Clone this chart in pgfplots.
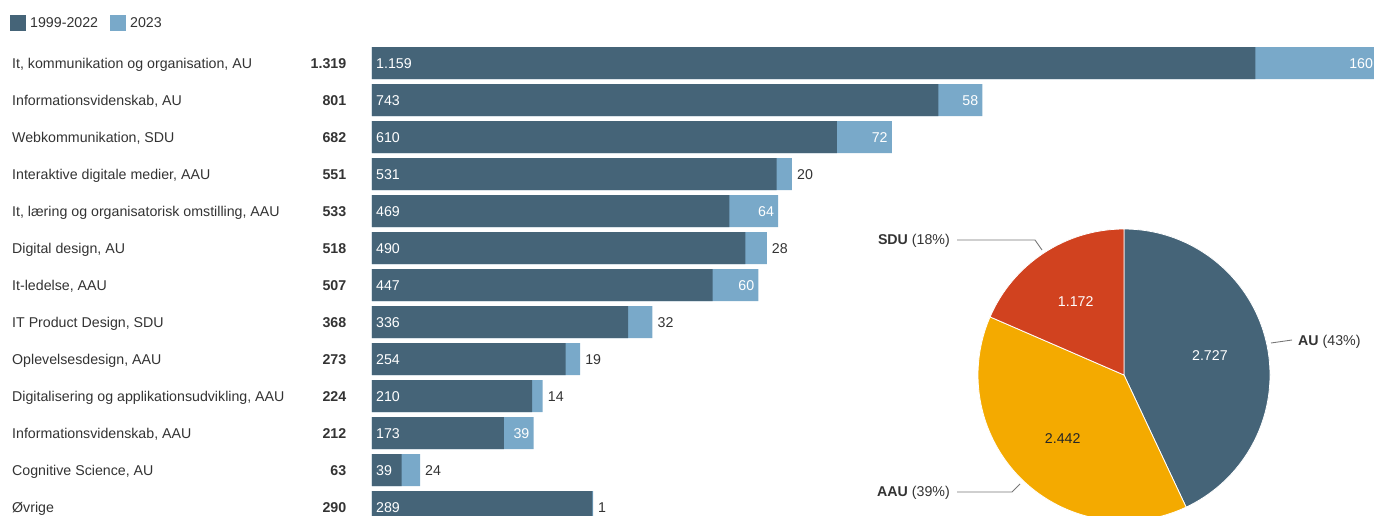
\documentclass[border=0pt]{standalone}
\usepackage{pgfplots}
\pgfplotsset{compat=1.18}
\usepackage{pgfplotstable}
\usepackage{fontspec}
\setmainfont{Liberation Sans}

\definecolor{dark}{HTML}{456478}
\definecolor{light}{HTML}{79A9C9}
\definecolor{sdured}{HTML}{D1421F}
\definecolor{aauyel}{HTML}{F4AA00}
\definecolor{txt}{HTML}{333333}
\definecolor{leader}{HTML}{777777}

% row, 1999-2022, 2023
\pgfplotstableread{
row a b
0 1159 160
1 743 58
2 610 72
3 531 20
4 469 64
5 490 28
6 447 60
7 336 32
8 254 19
9 210 14
10 173 39
11 39 24
12 289 1
}\bars

\newcommand\lab[2]{\makebox[334pt][l]{#1\hfill\textbf{#2}}}

\begin{document}
\fontsize{14.2pt}{16pt}\selectfont
\begin{tikzpicture}
\useasboundingbox (0,-515pt) rectangle (1374pt,0);
\clip (0,-515pt) rectangle (1374pt,0);

% legend
\fill[dark] (10pt,-15pt) rectangle (26pt,-31pt);
\node[anchor=west, inner sep=0pt, text=txt] at (30pt,-23pt) {1999-2022};
\fill[light] (110pt,-15pt) rectangle (126pt,-31pt);
\node[anchor=west, inner sep=0pt, text=txt] at (130pt,-23pt) {2023};

\begin{axis}[
    at={(372pt,0)}, anchor=north west,
    scale only axis, width=1006pt, height=515pt,
    xmin=0, xmax=1320,
    ymin=-1.7027, ymax=12.2162, y dir=reverse,
    xbar, bar width=32pt, bar shift=0pt,
    axis line style={draw=none},
    xtick=\empty,
    ytick={0,...,12},
    yticklabels={
        {\lab{It, kommunikation og organisation, AU}{1.319}},
        {\lab{Informationsvidenskab, AU}{801}},
        {\lab{Webkommunikation, SDU}{682}},
        {\lab{Interaktive digitale medier, AAU}{551}},
        {\lab{It, læring og organisatorisk omstilling, AAU}{533}},
        {\lab{Digital design, AU}{518}},
        {\lab{It-ledelse, AAU}{507}},
        {\lab{IT Product Design, SDU}{368}},
        {\lab{Oplevelsesdesign, AAU}{273}},
        {\lab{Digitalisering og applikationsudvikling, AAU}{224}},
        {\lab{Informationsvidenskab, AAU}{212}},
        {\lab{Cognitive Science, AU}{63}},
        {\lab{Øvrige}{290}}},
    major tick length=0pt,
    yticklabel style={anchor=west, xshift=-360pt, yshift=-1.5pt, inner sep=0pt, text=txt},
    /pgf/number format/1000 sep={.},
    /pgf/number format/assume math mode=true,
    unbounded coords=discard,
]
\addplot[fill=light, draw=none] table[x expr=\thisrow{a}+\thisrow{b}, y=row] {\bars};
\addplot[fill=dark, draw=none] table[x=a, y=row] {\bars};
% labels of the 1999-2022 part
\addplot[draw=none, fill=none, nodes near coords, point meta=explicit,
    nodes near coords style={anchor=west, text=white, xshift=4pt, yshift=-1pt, inner sep=0pt}]
    table[x expr=0, y=row, meta=a] {\bars};
% labels of the 2023 part, inside
\addplot[draw=none, fill=none, nodes near coords, point meta=explicit,
    nodes near coords style={anchor=east, text=white, xshift=-4pt, yshift=-1pt, inner sep=0pt}]
    table[x expr={\thisrow{b}>35 ? \thisrow{a}+\thisrow{b} : nan}, y=row, meta=b] {\bars};
% labels of the 2023 part, outside
\addplot[draw=none, fill=none, nodes near coords, point meta=explicit,
    nodes near coords style={anchor=west, text=txt, xshift=5pt, yshift=-1pt, inner sep=0pt}]
    table[x expr={\thisrow{b}>35 ? nan : \thisrow{a}+\thisrow{b}}, y=row, meta=b] {\bars};
\end{axis}

% pie: AU, AAU, SDU
\pgfmathsetmacro{\tot}{2727+2442+1172}
\pgfmathsetmacro{\aA}{90-2727/\tot*360}
\pgfmathsetmacro{\aB}{\aA-2442/\tot*360}
\pgfmathsetmacro{\mA}{(90+\aA)/2}
\pgfmathsetmacro{\mB}{(\aA+\aB)/2}
\pgfmathsetmacro{\mC}{(\aB-270)/2}
\begin{scope}[shift={(1124pt,-375pt)}]
\filldraw[fill=dark, draw=white, line width=0.8pt] (0,0) -- (90:146pt) arc[start angle=90, end angle=\aA, radius=146pt] -- cycle;
\filldraw[fill=aauyel, draw=white, line width=0.8pt] (0,0) -- (\aA:146pt) arc[start angle=\aA, end angle=\aB, radius=146pt] -- cycle;
\filldraw[fill=sdured, draw=white, line width=0.8pt] (0,0) -- (\aB:146pt) arc[start angle=\aB, end angle=-270, radius=146pt] -- cycle;
\node[text=white] at (\mA:88pt) {2.727};
\node[text=black!85] at (\mB:88pt) {2.442};
\node[text=white] at (\mC:88pt) {1.172};
\end{scope}

\node[anchor=east, inner sep=0pt, text=txt] at (950pt,-241pt) {\textbf{SDU} (18\%)};
\draw[leader, line width=0.9pt] (957pt,-240pt) -- (1035pt,-240pt) -- (1042pt,-250pt);
\node[anchor=west, inner sep=0pt, text=txt] at (1298pt,-342pt) {\textbf{AU} (43\%)};
\draw[leader, line width=0.9pt] (1271pt,-343pt) -- (1292pt,-340pt);
\node[anchor=east, inner sep=0pt, text=txt] at (950pt,-493pt) {\textbf{AAU} (39\%)};
\draw[leader, line width=0.9pt] (957pt,-492pt) -- (1012pt,-492pt) -- (1020pt,-484pt);
\end{tikzpicture}
\end{document}
